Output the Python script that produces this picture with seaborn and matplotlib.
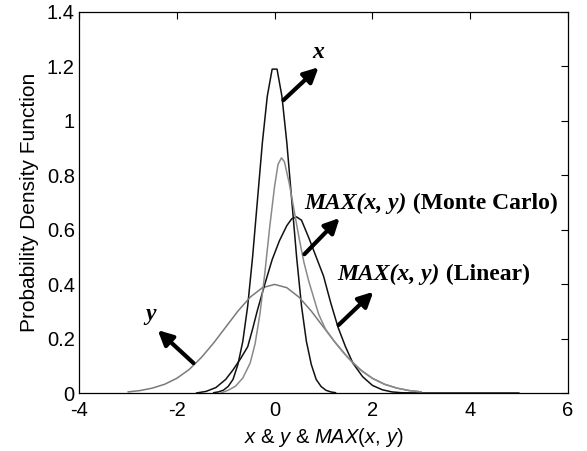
import matplotlib
matplotlib.use("Agg")
import matplotlib.pyplot as plt
import seaborn as sns
import pandas as pd

# curves
x_pts = [-1.25, -1.15, -1.05, -0.95, -0.85, -0.75, -0.65, -0.55, -0.45, -0.35, -0.25, -0.15, -0.05,
         0.05, 0.15, 0.25, 0.35, 0.45, 0.55, 0.65, 0.75, 0.85, 0.95, 1.05, 1.15, 1.25]
x_pdf = [0.001, 0.004, 0.01, 0.024, 0.05, 0.105, 0.19, 0.32, 0.50, 0.71, 0.92, 1.09, 1.19,
         1.19, 1.09, 0.92, 0.71, 0.50, 0.32, 0.19, 0.105, 0.05, 0.024, 0.01, 0.004, 0.001]

y_pts = [-3.0, -2.75, -2.5, -2.25, -2.0, -1.75, -1.5, -1.25, -1.0, -0.75, -0.5, -0.25, 0.0,
         0.25, 0.5, 0.75, 1.0, 1.25, 1.5, 1.75, 2.0, 2.25, 2.5, 2.75, 3.0]
y_pdf = [0.004, 0.009, 0.018, 0.032, 0.054, 0.086, 0.130, 0.183, 0.242, 0.301, 0.352, 0.387, 0.399,
         0.387, 0.352, 0.301, 0.242, 0.183, 0.130, 0.086, 0.054, 0.032, 0.018, 0.009, 0.004]

mc_pts = [-1.6, -1.4, -1.2, -1.0, -0.85, -0.7, -0.55, -0.45, -0.35, -0.2, -0.05, 0.1, 0.25, 0.35,
          0.45, 0.55, 0.7, 0.85, 1.0, 1.15, 1.3, 1.45, 1.6, 1.8, 2.0, 2.2, 2.4, 2.6, 3.0, 5.0]
mc_pdf = [0.0, 0.006, 0.02, 0.05, 0.085, 0.125, 0.17, 0.235, 0.305, 0.40, 0.49, 0.56, 0.615, 0.64,
          0.647, 0.635, 0.57, 0.50, 0.43, 0.33, 0.24, 0.17, 0.11, 0.06, 0.028, 0.012, 0.004, 0.001, 0.0, 0.0]

lin_pts = [-1.1, -0.95, -0.8, -0.65, -0.5, -0.4, -0.3, -0.2, -0.1, 0.0, 0.07, 0.14, 0.2, 0.3, 0.4,
           0.5, 0.6, 0.7, 0.8, 0.9, 1.04, 1.2, 1.4, 1.6, 1.8, 2.0, 2.25, 2.5, 2.75, 3.0]
lin_pdf = [0.0, 0.01, 0.025, 0.055, 0.11, 0.18, 0.29, 0.44, 0.61, 0.76, 0.84, 0.864, 0.85, 0.77, 0.67,
           0.57, 0.48, 0.41, 0.35, 0.29, 0.235, 0.195, 0.15, 0.111, 0.079, 0.054, 0.032, 0.018, 0.009, 0.004]

x_ticks = [-4, -2, 0, 2, 4, 6]
y_ticks = [0, 0.2, 0.4, 0.6, 0.8, 1, 1.2, 1.4]
y_tick_labels = ["0", "0.2", "0.4", "0.6", "0.8", "1", "1.2", "1.4"]

df = pd.concat([
    pd.DataFrame({"v": x_pts, "pdf": x_pdf, "curve": "x"}),
    pd.DataFrame({"v": y_pts, "pdf": y_pdf, "curve": "y"}),
    pd.DataFrame({"v": mc_pts, "pdf": mc_pdf, "curve": "mc"}),
    pd.DataFrame({"v": lin_pts, "pdf": lin_pdf, "curve": "lin"}),
])

sns.set_style("white")
plt.rcParams["font.family"] = ["Liberation Sans", "DejaVu Sans"]
plt.rcParams["text.color"] = "black"
plt.rcParams["axes.labelcolor"] = "black"
plt.rcParams["mathtext.fontset"] = "custom"
plt.rcParams["mathtext.rm"] = "Liberation Sans"
plt.rcParams["mathtext.it"] = "Liberation Sans:italic"

fig = plt.figure(figsize=(5.87, 4.51), dpi=100)
ax = fig.add_axes([0.1346, 0.1286, 0.833, 0.8448])

pal = {"x": "#111111", "y": "#7a7a7a", "mc": "#111111", "lin": "#8a8a8a"}
sns.lineplot(data=df, x="v", y="pdf", hue="curve", palette=pal, estimator=None,
             sort=True, legend=False, lw=1.1, ax=ax)

ax.set_xlim(-4, 6)
ax.set_ylim(0, 1.4)
ax.set_xticks(x_ticks)
ax.set_xticklabels([str(t) for t in x_ticks])
ax.set_yticks(y_ticks)
ax.set_yticklabels(y_tick_labels)
ax.tick_params(direction="in", length=5, width=0.8, labelsize=14.5, colors="black",
               top=True, right=True)
ax.tick_params(axis="x", pad=6)
ax.tick_params(axis="y", pad=3)
for s in ax.spines.values():
    s.set_color("black")
    s.set_linewidth(0.9)

ax.set_xlabel(r"$x$ & $y$ & $MAX(x,\,y)$", fontsize=14.5, labelpad=4)
ax.set_ylabel("Probability Density Function", fontsize=15, labelpad=6)

# labels and arrows
serif = dict(family="Liberation Serif", weight="bold", fontsize=17, color="black")
arrow = dict(arrowstyle="-|>", lw=3, mutation_scale=22, color="black", shrinkA=0, shrinkB=0)

ax.text(0.90, 1.253, "x", style="italic", ha="center", va="center", **serif)
ax.annotate("", xy=(0.90, 1.197), xytext=(0.18, 1.076), arrowprops=arrow)

ax.text(-2.54, 0.287, "y", style="italic", ha="center", va="center", **serif)
ax.annotate("", xy=(-2.39, 0.231), xytext=(-1.66, 0.11), arrowprops=arrow)

t1 = ax.text(0.61, 0.695, "MAX(x, y)", style="italic", ha="left", va="center", **serif)
ax.annotate(" (Monte Carlo)", xy=(1, 0), xycoords=t1, ha="left", va="bottom", **serif)
ax.annotate("", xy=(1.33, 0.643), xytext=(0.61, 0.51), arrowprops=arrow)

t2 = ax.text(1.29, 0.434, "MAX(x, y)", style="italic", ha="left", va="center", **serif)
ax.annotate(" (Linear)", xy=(1, 0), xycoords=t2, ha="left", va="bottom", **serif)
ax.annotate("", xy=(2.02, 0.372), xytext=(1.31, 0.25), arrowprops=arrow)

fig.savefig("out.png", dpi=100)
